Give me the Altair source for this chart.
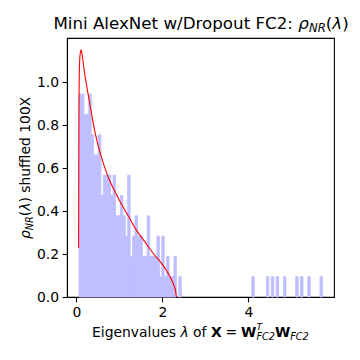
import altair as alt
import pandas as pd

# ---------------- data ----------------
bin_start = 0.062          # left edge of the first histogram bin
bin_width = 0.0566         # histogram bin width
density_per_count = 0.0944 # density height of one eigenvalue in a bin

# counts of the bulk bins (bin 0 .. 41)
bulk_counts = [10, 10, 9, 9, 10, 8, 7, 7, 8, 5,
               6, 6, 6, 5, 6, 4, 4, 5, 4, 3,
               6, 2, 3, 4, 3, 3, 2, 2, 4, 2,
               2, 2, 3, 1, 3, 1, 2, 1, 1, 2,
               0, 1]
# isolated large eigenvalues: bin indices holding one eigenvalue each
outlier_bins = [71, 77, 79, 81, 84, 89, 91, 94, 99]

# red Marchenko-Pastur fit
curve_lam = [0.053, 0.056, 0.060, 0.066, 0.078, 0.095, 0.112, 0.14, 0.186, 0.26,
             0.33, 0.40, 0.50, 0.60, 0.70, 0.80, 0.90, 1.00, 1.20, 1.40,
             1.60, 1.80, 2.00, 2.10, 2.20, 2.27, 2.31, 2.325]
curve_rho = [0.228, 0.55, 0.82, 1.00, 1.10, 1.14, 1.15, 1.12, 1.05, 0.96,
             0.88, 0.80, 0.71, 0.64, 0.58, 0.53, 0.49, 0.45, 0.38, 0.31,
             0.255, 0.20, 0.152, 0.122, 0.086, 0.054, 0.025, 0.0]

x_ticks = [0, 2, 4]
y_ticks = [0.0, 0.2, 0.4, 0.6, 0.8, 1.0]

# ---------------- tables ----------------
counts = {i: c for i, c in enumerate(bulk_counts) if c > 0}
for b in outlier_bins:
    counts[b] = counts.get(b, 0) + 1
hist = pd.DataFrame({
    "lo": [bin_start + i * bin_width for i in counts],
    "hi": [bin_start + (i + 1) * bin_width for i in counts],
    "rho": [c * density_per_count for c in counts.values()],
})
curve = pd.DataFrame({"lam": curve_lam, "rho": curve_rho})

W, H = 267, 259
FONT = "DejaVu Sans"

xscale = alt.Scale(domain=[-0.217, 5.99], nice=False, zero=False)
yscale = alt.Scale(domain=[0, 1.205], nice=False, zero=True)
xaxis = alt.Axis(values=x_ticks, format="d", title=None, grid=False)
yaxis = alt.Axis(values=y_ticks, format=".1f", title=None, grid=False)

bars = alt.Chart(hist).mark_rect(
    color="#bfbfff", stroke="#bfbfff", strokeWidth=0.9
).encode(
    x=alt.X("lo:Q", scale=xscale, axis=xaxis),
    x2="hi:Q",
    y=alt.Y("rho:Q", scale=yscale, axis=yaxis),
    y2=alt.datum(0),
)

line = alt.Chart(curve).mark_line(
    color="red", strokeWidth=1.1, interpolate="monotone", clip=True
).encode(
    x=alt.X("lam:Q", scale=xscale, axis=xaxis),
    y=alt.Y("rho:Q", scale=yscale, axis=yaxis),
)


def piece(text, x, y, size, style="normal", weight="normal", angle=0, align="left"):
    return alt.Chart(pd.DataFrame({"k": [0]})).mark_text(
        text=text, font=FONT, fontSize=size, fontStyle=style, fontWeight=weight,
        angle=angle, align=align, baseline="alphabetic", color="black",
    ).encode(x=alt.value(x), y=alt.value(y))


# title  (positions relative to plot area)
ty = -9.5
title = [
    piece("Mini AlexNet w/Dropout FC2:", 226.0, ty, 16.7, align="right"),
    piece("ρ", 231.3, ty, 16.7, style="italic"),
    piece("NR", 241.9, ty + 3.5, 11.7, style="italic"),
    piece("(", 258.8, ty, 16.7),
    piece("λ", 265.3, ty, 16.7, style="italic"),
    piece(")", 275.3, ty, 16.7),
]

# x label
xb = 298.7
xlab = [
    piece("Eigenvalues", 25.0, xb, 13.9),
    piece("λ", 113.5, xb, 13.9, style="italic"),
    piece("of", 126.1, xb, 13.9),
    piece("X", 143.9, xb, 13.9, weight="bold"),
    piece("=", 158.6, xb, 13.9),
    piece("W", 174.1, xb, 13.9, weight="bold"),
    piece("T", 189.4, xb - 6.8, 9.2, style="italic"),
    piece("FC2", 189.4, xb + 3.6, 9.7, style="italic"),
    piece("W", 207.9, xb, 13.9, weight="bold"),
    piece("FC2", 223.2, xb + 3.6, 9.7, style="italic"),
]

# y label (rotated, reads bottom to top)
yx = -37.0
ylab = [
    piece("ρ", yx, 201.0, 13.9, style="italic", angle=270),
    piece("NR", yx + 3.0, 192.2, 9.7, style="italic", angle=270),
    piece("(", yx, 178.2, 13.9, angle=270),
    piece("λ", yx, 172.8, 13.9, style="italic", angle=270),
    piece(")", yx, 164.6, 13.9, angle=270),
    piece("shuffled 100X", yx, 154.8, 13.9, angle=270),
]

chart = alt.layer(bars, line, *title, *xlab, *ylab).properties(
    width=W, height=H,
    autosize=alt.AutoSizeParams(type="none"),
    padding={"left": 59, "top": 30, "right": 18, "bottom": 55},
).configure_view(
    stroke="black", strokeWidth=1.1
).configure_axis(
    domainColor="black", domainWidth=1.1,
    tickColor="black", tickWidth=1.1, tickSize=4.9,
    labelColor="black", labelFont=FONT, labelFontSize=13.9, labelPadding=3.5,
    grid=False,
)

chart.save("out.html", embed_options={"renderer": "svg", "actions": False})
